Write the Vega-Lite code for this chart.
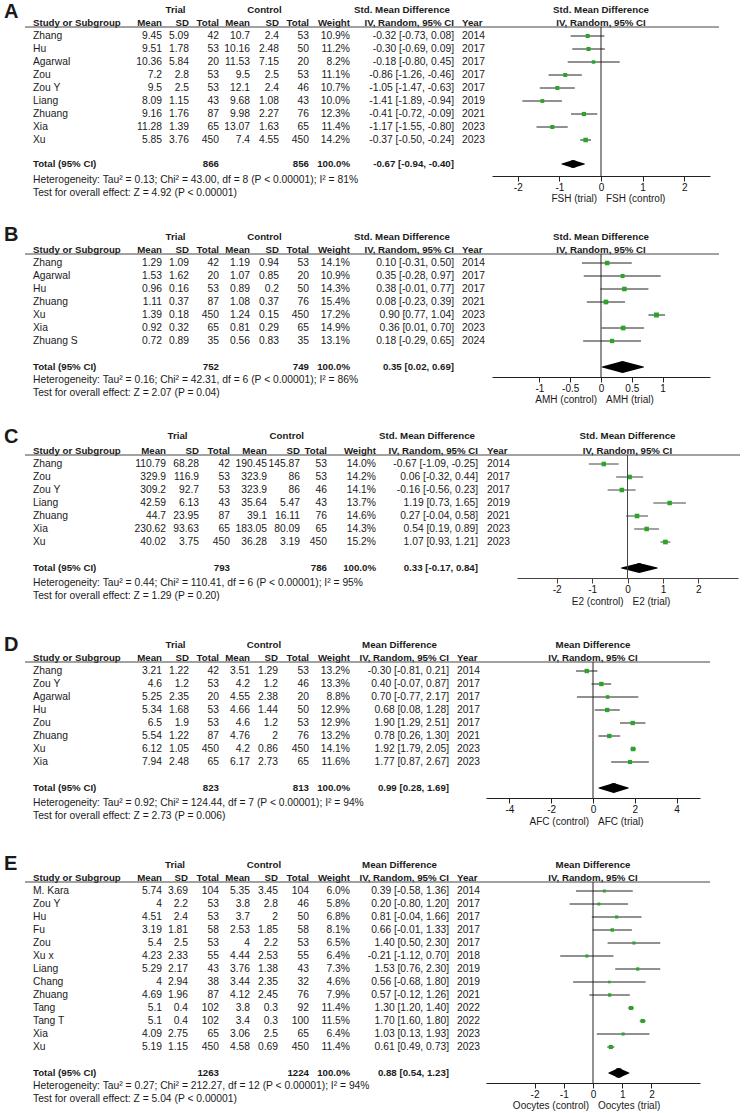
{
"$schema": "https://vega.github.io/schema/vega-lite/v6.json",
"padding": 0, "spacing": 0, "bounds": "flush", "background": "white",
"datasets": {
"H2": [{"s":"Study or Subgroup","m1":"Mean","sd1":"SD","n1":"Total","m2":"Mean","sd2":"SD","n2":"Total","w":"Weight","ci":"IV, Random, 95% CI","yr":"Year"}],
"A": [
{"s":"Zhang","m1":9.45,"sd1":5.09,"n1":42,"m2":10.7,"sd2":2.4,"n2":53,"w":0.109,"ci":"-0.32 [-0.73, 0.08]","yr":2014,"est":-0.32,"lo":-0.73,"hi":0.08},
{"s":"Hu","m1":9.51,"sd1":1.78,"n1":53,"m2":10.16,"sd2":2.48,"n2":50,"w":0.112,"ci":"-0.30 [-0.69, 0.09]","yr":2017,"est":-0.30,"lo":-0.69,"hi":0.09},
{"s":"Agarwal","m1":10.36,"sd1":5.84,"n1":20,"m2":11.53,"sd2":7.15,"n2":20,"w":0.082,"ci":"-0.18 [-0.80, 0.45]","yr":2017,"est":-0.18,"lo":-0.80,"hi":0.45},
{"s":"Zou","m1":7.2,"sd1":2.8,"n1":53,"m2":9.5,"sd2":2.5,"n2":53,"w":0.111,"ci":"-0.86 [-1.26, -0.46]","yr":2017,"est":-0.86,"lo":-1.26,"hi":-0.46},
{"s":"Zou Y","m1":9.5,"sd1":2.5,"n1":53,"m2":12.1,"sd2":2.4,"n2":46,"w":0.107,"ci":"-1.05 [-1.47, -0.63]","yr":2017,"est":-1.05,"lo":-1.47,"hi":-0.63},
{"s":"Liang","m1":8.09,"sd1":1.15,"n1":43,"m2":9.68,"sd2":1.08,"n2":43,"w":0.100,"ci":"-1.41 [-1.89, -0.94]","yr":2019,"est":-1.41,"lo":-1.89,"hi":-0.94},
{"s":"Zhuang","m1":9.16,"sd1":1.76,"n1":87,"m2":9.98,"sd2":2.27,"n2":76,"w":0.123,"ci":"-0.41 [-0.72, -0.09]","yr":2021,"est":-0.41,"lo":-0.72,"hi":-0.09},
{"s":"Xia","m1":11.28,"sd1":1.39,"n1":65,"m2":13.07,"sd2":1.63,"n2":65,"w":0.114,"ci":"-1.17 [-1.55, -0.80]","yr":2023,"est":-1.17,"lo":-1.55,"hi":-0.80},
{"s":"Xu","m1":5.85,"sd1":3.76,"n1":450,"m2":7.4,"sd2":4.55,"n2":450,"w":0.142,"ci":"-0.37 [-0.50, -0.24]","yr":2023,"est":-0.37,"lo":-0.50,"hi":-0.24}
],
"Am": [{"p":"A","m":"Std. Mean Difference","n1":866,"n2":856,"w":"100.0%","ci":"-0.67 [-0.94, -0.40]","est":-0.67,"lo":-0.94,"hi":-0.40,"_het":"Heterogeneity: Tau² = 0.13; Chi² = 43.00, df = 8 (P < 0.00001); I² = 81%","_test":"Test for overall effect: Z = 4.92 (P < 0.00001)","l1":"FSH (trial)","l2":"FSH (control)"}],
"B": [
{"s":"Zhang","m1":1.29,"sd1":1.09,"n1":42,"m2":1.19,"sd2":0.94,"n2":53,"w":0.141,"ci":"0.10 [-0.31, 0.50]","yr":2014,"est":0.10,"lo":-0.31,"hi":0.50},
{"s":"Agarwal","m1":1.53,"sd1":1.62,"n1":20,"m2":1.07,"sd2":0.85,"n2":20,"w":0.109,"ci":"0.35 [-0.28, 0.97]","yr":2017,"est":0.35,"lo":-0.28,"hi":0.97},
{"s":"Hu","m1":0.96,"sd1":0.16,"n1":53,"m2":0.89,"sd2":0.2,"n2":50,"w":0.143,"ci":"0.38 [-0.01, 0.77]","yr":2017,"est":0.38,"lo":-0.01,"hi":0.77},
{"s":"Zhuang","m1":1.11,"sd1":0.37,"n1":87,"m2":1.08,"sd2":0.37,"n2":76,"w":0.154,"ci":"0.08 [-0.23, 0.39]","yr":2021,"est":0.08,"lo":-0.23,"hi":0.39},
{"s":"Xu","m1":1.39,"sd1":0.18,"n1":450,"m2":1.24,"sd2":0.15,"n2":450,"w":0.172,"ci":"0.90 [0.77, 1.04]","yr":2023,"est":0.90,"lo":0.77,"hi":1.04},
{"s":"Xia","m1":0.92,"sd1":0.32,"n1":65,"m2":0.81,"sd2":0.29,"n2":65,"w":0.149,"ci":"0.36 [0.01, 0.70]","yr":2023,"est":0.36,"lo":0.01,"hi":0.70},
{"s":"Zhuang S","m1":0.72,"sd1":0.89,"n1":35,"m2":0.56,"sd2":0.83,"n2":35,"w":0.131,"ci":"0.18 [-0.29, 0.65]","yr":2024,"est":0.18,"lo":-0.29,"hi":0.65}
],
"Bm": [{"p":"B","m":"Std. Mean Difference","n1":752,"n2":749,"w":"100.0%","ci":"0.35 [0.02, 0.69]","est":0.35,"lo":0.02,"hi":0.69,"_het":"Heterogeneity: Tau² = 0.16; Chi² = 42.31, df = 6 (P < 0.00001); I² = 86%","_test":"Test for overall effect: Z = 2.07 (P = 0.04)","l1":"AMH (control)","l2":"AMH (trial)"}],
"C": [
{"s":"Zhang","m1":110.79,"sd1":68.28,"n1":42,"m2":190.45,"sd2":145.87,"n2":53,"w":0.140,"ci":"-0.67 [-1.09, -0.25]","yr":2014,"est":-0.67,"lo":-1.09,"hi":-0.25},
{"s":"Zou","m1":329.9,"sd1":116.9,"n1":53,"m2":323.9,"sd2":86,"n2":53,"w":0.142,"ci":"0.06 [-0.32, 0.44]","yr":2017,"est":0.06,"lo":-0.32,"hi":0.44},
{"s":"Zou Y","m1":309.2,"sd1":92.7,"n1":53,"m2":323.9,"sd2":86,"n2":46,"w":0.141,"ci":"-0.16 [-0.56, 0.23]","yr":2017,"est":-0.16,"lo":-0.56,"hi":0.23},
{"s":"Liang","m1":42.59,"sd1":6.13,"n1":43,"m2":35.64,"sd2":5.47,"n2":43,"w":0.137,"ci":"1.19 [0.73, 1.65]","yr":2019,"est":1.19,"lo":0.73,"hi":1.65},
{"s":"Zhuang","m1":44.7,"sd1":23.95,"n1":87,"m2":39.1,"sd2":16.11,"n2":76,"w":0.146,"ci":"0.27 [-0.04, 0.58]","yr":2021,"est":0.27,"lo":-0.04,"hi":0.58},
{"s":"Xia","m1":230.62,"sd1":93.63,"n1":65,"m2":183.05,"sd2":80.09,"n2":65,"w":0.143,"ci":"0.54 [0.19, 0.89]","yr":2023,"est":0.54,"lo":0.19,"hi":0.89},
{"s":"Xu","m1":40.02,"sd1":3.75,"n1":450,"m2":36.28,"sd2":3.19,"n2":450,"w":0.152,"ci":"1.07 [0.93, 1.21]","yr":2023,"est":1.07,"lo":0.93,"hi":1.21}
],
"Cm": [{"p":"C","m":"Std. Mean Difference","n1":793,"n2":786,"w":"100.0%","ci":"0.33 [-0.17, 0.84]","est":0.33,"lo":-0.17,"hi":0.84,"_het":"Heterogeneity: Tau² = 0.44; Chi² = 110.41, df = 6 (P < 0.00001); I² = 95%","_test":"Test for overall effect: Z = 1.29 (P = 0.20)","l1":"E2 (control)","l2":"E2 (trial)"}],
"D": [
{"s":"Zhang","m1":3.21,"sd1":1.22,"n1":42,"m2":3.51,"sd2":1.29,"n2":53,"w":0.132,"ci":"-0.30 [-0.81, 0.21]","yr":2014,"est":-0.30,"lo":-0.81,"hi":0.21},
{"s":"Zou Y","m1":4.6,"sd1":1.2,"n1":53,"m2":4.2,"sd2":1.2,"n2":46,"w":0.133,"ci":"0.40 [-0.07, 0.87]","yr":2017,"est":0.40,"lo":-0.07,"hi":0.87},
{"s":"Agarwal","m1":5.25,"sd1":2.35,"n1":20,"m2":4.55,"sd2":2.38,"n2":20,"w":0.088,"ci":"0.70 [-0.77, 2.17]","yr":2017,"est":0.70,"lo":-0.77,"hi":2.17},
{"s":"Hu","m1":5.34,"sd1":1.68,"n1":53,"m2":4.66,"sd2":1.44,"n2":50,"w":0.129,"ci":"0.68 [0.08, 1.28]","yr":2017,"est":0.68,"lo":0.08,"hi":1.28},
{"s":"Zou","m1":6.5,"sd1":1.9,"n1":53,"m2":4.6,"sd2":1.2,"n2":53,"w":0.129,"ci":"1.90 [1.29, 2.51]","yr":2017,"est":1.90,"lo":1.29,"hi":2.51},
{"s":"Zhuang","m1":5.54,"sd1":1.22,"n1":87,"m2":4.76,"sd2":2,"n2":76,"w":0.132,"ci":"0.78 [0.26, 1.30]","yr":2021,"est":0.78,"lo":0.26,"hi":1.30},
{"s":"Xu","m1":6.12,"sd1":1.05,"n1":450,"m2":4.2,"sd2":0.86,"n2":450,"w":0.141,"ci":"1.92 [1.79, 2.05]","yr":2023,"est":1.92,"lo":1.79,"hi":2.05},
{"s":"Xia","m1":7.94,"sd1":2.48,"n1":65,"m2":6.17,"sd2":2.73,"n2":65,"w":0.116,"ci":"1.77 [0.87, 2.67]","yr":2023,"est":1.77,"lo":0.87,"hi":2.67}
],
"Dm": [{"p":"D","m":"Mean Difference","n1":823,"n2":813,"w":"100.0%","ci":"0.99 [0.28, 1.69]","est":0.99,"lo":0.28,"hi":1.69,"_het":"Heterogeneity: Tau² = 0.92; Chi² = 124.44, df = 7 (P < 0.00001); I² = 94%","_test":"Test for overall effect: Z = 2.73 (P = 0.006)","l1":"AFC (control)","l2":"AFC (trial)"}],
"E": [
{"s":"M. Kara","m1":5.74,"sd1":3.69,"n1":104,"m2":5.35,"sd2":3.45,"n2":104,"w":0.060,"ci":"0.39 [-0.58, 1.36]","yr":2014,"est":0.39,"lo":-0.58,"hi":1.36},
{"s":"Zou Y","m1":4,"sd1":2.2,"n1":53,"m2":3.8,"sd2":2.8,"n2":46,"w":0.058,"ci":"0.20 [-0.80, 1.20]","yr":2017,"est":0.20,"lo":-0.80,"hi":1.20},
{"s":"Hu","m1":4.51,"sd1":2.4,"n1":53,"m2":3.7,"sd2":2,"n2":50,"w":0.068,"ci":"0.81 [-0.04, 1.66]","yr":2017,"est":0.81,"lo":-0.04,"hi":1.66},
{"s":"Fu","m1":3.19,"sd1":1.81,"n1":58,"m2":2.53,"sd2":1.85,"n2":58,"w":0.081,"ci":"0.66 [-0.01, 1.33]","yr":2017,"est":0.66,"lo":-0.01,"hi":1.33},
{"s":"Zou","m1":5.4,"sd1":2.5,"n1":53,"m2":4,"sd2":2.2,"n2":53,"w":0.065,"ci":"1.40 [0.50, 2.30]","yr":2017,"est":1.40,"lo":0.50,"hi":2.30},
{"s":"Xu x","m1":4.23,"sd1":2.33,"n1":55,"m2":4.44,"sd2":2.53,"n2":55,"w":0.064,"ci":"-0.21 [-1.12, 0.70]","yr":2018,"est":-0.21,"lo":-1.12,"hi":0.70},
{"s":"Liang","m1":5.29,"sd1":2.17,"n1":43,"m2":3.76,"sd2":1.38,"n2":43,"w":0.073,"ci":"1.53 [0.76, 2.30]","yr":2019,"est":1.53,"lo":0.76,"hi":2.30},
{"s":"Chang","m1":4,"sd1":2.94,"n1":38,"m2":3.44,"sd2":2.35,"n2":32,"w":0.046,"ci":"0.56 [-0.68, 1.80]","yr":2019,"est":0.56,"lo":-0.68,"hi":1.80},
{"s":"Zhuang","m1":4.69,"sd1":1.96,"n1":87,"m2":4.12,"sd2":2.45,"n2":76,"w":0.079,"ci":"0.57 [-0.12, 1.26]","yr":2021,"est":0.57,"lo":-0.12,"hi":1.26},
{"s":"Tang","m1":5.1,"sd1":0.4,"n1":102,"m2":3.8,"sd2":0.3,"n2":92,"w":0.114,"ci":"1.30 [1.20, 1.40]","yr":2022,"est":1.30,"lo":1.20,"hi":1.40},
{"s":"Tang T","m1":5.1,"sd1":0.4,"n1":102,"m2":3.4,"sd2":0.3,"n2":100,"w":0.115,"ci":"1.70 [1.60, 1.80]","yr":2022,"est":1.70,"lo":1.60,"hi":1.80},
{"s":"Xia","m1":4.09,"sd1":2.75,"n1":65,"m2":3.06,"sd2":2.5,"n2":65,"w":0.064,"ci":"1.03 [0.13, 1.93]","yr":2023,"est":1.03,"lo":0.13,"hi":1.93},
{"s":"Xu","m1":5.19,"sd1":1.15,"n1":450,"m2":4.58,"sd2":0.69,"n2":450,"w":0.114,"ci":"0.61 [0.49, 0.73]","yr":2023,"est":0.61,"lo":0.49,"hi":0.73}
],
"Em": [{"p":"E","m":"Mean Difference","n1":1263,"n2":1224,"w":"100.0%","ci":"0.88 [0.54, 1.23]","est":0.88,"lo":0.54,"hi":1.23,"_het":"Heterogeneity: Tau² = 0.27; Chi² = 212.27, df = 12 (P < 0.00001); I² = 94%","_test":"Test for overall effect: Z = 5.04 (P < 0.00001)","l1":"Oocytes (control)","l2":"Oocytes (trial)"}]
},
"vconcat": [
{"width": 750, "height": 223,
 "resolve": {"scale": {"x": "independent", "size": "independent"}, "axis": {"x": "independent"}},
 "layer": [
 {"layer": [
  {"data":{"name":"Am"},"mark":{"type":"text","align":"left","fontSize":20,"fontWeight":"bold","dy":2},"encoding":{"x":{"datum":-1,"type":"quantitative","axis":null},"y":{"datum":"_h1"},"text":{"field":"p","type":"nominal"}}},
  {"data":{"name":"H2"},"mark":{"type":"text","text":"Trial","fontWeight":"bold","fontSize":9.7,"align":"center"},"encoding":{"x":{"datum":2.5,"type":"quantitative","axis":null},"y":{"datum":"_h1"}}},
  {"data":{"name":"H2"},"mark":{"type":"text","text":"Control","fontWeight":"bold","fontSize":9.7,"align":"center"},"encoding":{"x":{"datum":5.5,"type":"quantitative","axis":null},"y":{"datum":"_h1"}}},
  {"data":{"name":"Am"},"mark":{"type":"text","fontWeight":"bold","fontSize":9.7,"align":"center"},"encoding":{"x":{"datum":8.5,"type":"quantitative","axis":null},"y":{"datum":"_h1"},"text":{"field":"m","type":"nominal"}}},
  {"data":{"name":"H2"},"transform":[{"fold":["m1","sd1","n1","m2","sd2","n2","w","ci"]},{"calculate":"indexof(['m1','sd1','n1','m2','sd2','n2','w','ci'], datum.key) + 2","as":"c"}],"mark":{"type":"text","align":"right","fontWeight":"bold","fontSize":9.7},"encoding":{"x":{"field":"c","type":"quantitative","axis":null},"y":{"datum":"Study or Subgroup"},"text":{"field":"value","type":"nominal"}}},
  {"data":{"name":"H2"},"transform":[{"fold":["s","yr"]},{"calculate":"datum.key == 's' ? 1 : 10","as":"c"}],"mark":{"type":"text","align":"left","fontWeight":"bold","fontSize":9.7},"encoding":{"x":{"field":"c","type":"quantitative","axis":null},"y":{"datum":"Study or Subgroup"},"text":{"field":"value","type":"nominal"}}},
  {"data":{"name":"A"},"transform":[{"fold":["m1","sd1","n1","m2","sd2","n2","ci"]},{"calculate":"indexof(['m1','sd1','n1','m2','sd2','n2','w','ci'], datum.key) + 2","as":"c"}],"mark":{"type":"text","align":"right"},"encoding":{"x":{"field":"c","type":"quantitative","axis":null,"scale":{"domain":[-1,0,1,2,3,4,5,6,7,8,9,10,11],"range":[4,25,33,162,189,219,250,279,309,350,454,462,719],"nice":false,"zero":false}},"y":{"field":"s","type":"nominal","scale":{"type":"point","padding":0,"range":[10,205],"domain":["_h1","Study or Subgroup","Zhang","Hu","Agarwal","Zou","Zou Y","Liang","Zhuang","Xia","Xu","_gap","Total (95% CI)","_het","_test","_lab"]}},"text":{"field":"value","type":"nominal"}}},
  {"data":{"name":"A"},"transform":[{"fold":["s","yr"]},{"calculate":"datum.key == 's' ? 1 : 10","as":"c"}],"mark":{"type":"text","align":"left"},"encoding":{"x":{"field":"c","type":"quantitative","axis":null},"y":{"field":"s","type":"nominal"},"text":{"field":"value","type":"nominal"}}},
  {"data":{"name":"A"},"mark":{"type":"text","align":"right"},"encoding":{"x":{"datum":8,"type":"quantitative","axis":null},"y":{"field":"s","type":"nominal"},"text":{"field":"w","type":"quantitative","format":".1%"}}},
  {"data":{"name":"Am"},"transform":[{"fold":["n1","n2","w","ci"]},{"calculate":"indexof(['m1','sd1','n1','m2','sd2','n2','w','ci'], datum.key) + 2","as":"c"}],"mark":{"type":"text","align":"right","fontWeight":"bold","fontSize":9.7,"dy":-2},"encoding":{"x":{"field":"c","type":"quantitative","axis":null},"y":{"datum":"Total (95% CI)"},"text":{"field":"value","type":"nominal"}}},
  {"data":{"name":"H2"},"mark":{"type":"text","text":"Total (95% CI)","align":"left","fontWeight":"bold","fontSize":9.7,"dy":-2},"encoding":{"x":{"datum":1,"type":"quantitative","axis":null},"y":{"datum":"Total (95% CI)"}}},
  {"data":{"name":"Am"},"transform":[{"fold":["_het","_test"]}],"mark":{"type":"text","align":"left","dy":1},"encoding":{"x":{"datum":1,"type":"quantitative","axis":null},"y":{"field":"key","type":"nominal"},"text":{"field":"value","type":"nominal"}}},
  {"data":{"name":"H2"},"mark":{"type":"rule","color":"#444","yOffset":4},"encoding":{"x":{"datum":0,"type":"quantitative","axis":null},"x2":{"datum":11},"y":{"datum":"Study or Subgroup"}}}
 ]},
 {"resolve": {"scale": {"size": "independent"}, "axis": {"x": "independent"}},
  "layer": [
  {"data":{"name":"A"},"mark":{"type":"rule","color":"#222"},"encoding":{"x":{"field":"lo","type":"quantitative","scale":{"domain":[-2.62,2.62],"range":[492,710],"nice":false,"zero":false},"axis":{"values":[-2,-1,0,1,2],"format":"~g","offset":-47,"title":null,"grid":false,"labelFontSize":10,"labelFont":"Liberation Sans","labelColor":"#111","domainColor":"#222","tickColor":"#222","tickSize":5,"labelPadding":1,"labelFlush":false}},"x2":{"field":"hi"},"y":{"field":"s","type":"nominal","scale":{"type":"point","padding":0,"range":[10,205],"domain":["_h1","Study or Subgroup","Zhang","Hu","Agarwal","Zou","Zou Y","Liang","Zhuang","Xia","Xu","_gap","Total (95% CI)","_het","_test","_lab"]}}}},
  {"data":{"name":"A"},"mark":{"type":"square","filled":true,"opacity":1,"color":"#2aa52a"},"encoding":{"x":{"field":"est","type":"quantitative","axis":null},"y":{"field":"s","type":"nominal"},"size":{"field":"w","type":"quantitative","scale":{"domain":[0,0.2],"range":[0,29]},"legend":null}}},
  {"data":{"name":"Am"},"transform":[{"fold":["lo","est","hi"],"as":["k","v"]},{"calculate":"datum.k == 'est' ? 1 : 0","as":"h"}],"mark":{"type":"trail","color":"#000","yOffset":-2},"encoding":{"x":{"field":"v","type":"quantitative","axis":null},"y":{"datum":"Total (95% CI)"},"size":{"field":"h","type":"quantitative","scale":{"domain":[0,1],"range":[0,8]},"legend":null}}},
  {"data":{"name":"H2"},"mark":{"type":"rule","color":"#222","yOffset":4,"y2Offset":-3},"encoding":{"x":{"datum":0,"type":"quantitative","axis":null},"y":{"datum":"Study or Subgroup"},"y2":{"datum":"_het"}}},
  {"data":{"name":"Am"},"mark":{"type":"text","fontWeight":"bold","fontSize":9.7,"align":"center"},"encoding":{"x":{"datum":0,"type":"quantitative","axis":null},"y":{"datum":"_h1"},"text":{"field":"m","type":"nominal"}}},
  {"data":{"name":"H2"},"mark":{"type":"text","text":"IV, Random, 95% CI","fontWeight":"bold","fontSize":9.7,"align":"center"},"encoding":{"x":{"datum":0,"type":"quantitative","axis":null},"y":{"datum":"Study or Subgroup"}}},
  {"data":{"name":"Am"},"mark":{"type":"text","align":"right","dx":-4,"dy":-6,"fontSize":10},"encoding":{"x":{"datum":0,"type":"quantitative","axis":null},"y":{"datum":"_lab"},"text":{"field":"l1","type":"nominal"}}},
  {"data":{"name":"Am"},"mark":{"type":"text","align":"left","dx":5,"dy":-6,"fontSize":10},"encoding":{"x":{"datum":0,"type":"quantitative","axis":null},"y":{"datum":"_lab"},"text":{"field":"l2","type":"nominal"}}}
 ]}
 ]},
{"width": 750, "height": 202,
 "resolve": {"scale": {"x": "independent", "size": "independent"}, "axis": {"x": "independent"}},
 "layer": [
 {"layer": [
  {"data":{"name":"Bm"},"mark":{"type":"text","align":"left","fontSize":20,"fontWeight":"bold","dy":-2},"encoding":{"x":{"datum":-1,"type":"quantitative","axis":null},"y":{"datum":"_h1"},"text":{"field":"p","type":"nominal"}}},
  {"data":{"name":"H2"},"mark":{"type":"text","text":"Trial","fontWeight":"bold","fontSize":9.7,"align":"center"},"encoding":{"x":{"datum":2.5,"type":"quantitative","axis":null},"y":{"datum":"_h1"}}},
  {"data":{"name":"H2"},"mark":{"type":"text","text":"Control","fontWeight":"bold","fontSize":9.7,"align":"center"},"encoding":{"x":{"datum":5.5,"type":"quantitative","axis":null},"y":{"datum":"_h1"}}},
  {"data":{"name":"Bm"},"mark":{"type":"text","fontWeight":"bold","fontSize":9.7,"align":"center"},"encoding":{"x":{"datum":8.5,"type":"quantitative","axis":null},"y":{"datum":"_h1"},"text":{"field":"m","type":"nominal"}}},
  {"data":{"name":"H2"},"transform":[{"fold":["m1","sd1","n1","m2","sd2","n2","w","ci"]},{"calculate":"indexof(['m1','sd1','n1','m2','sd2','n2','w','ci'], datum.key) + 2","as":"c"}],"mark":{"type":"text","align":"right","fontWeight":"bold","fontSize":9.7},"encoding":{"x":{"field":"c","type":"quantitative","axis":null},"y":{"datum":"Study or Subgroup"},"text":{"field":"value","type":"nominal"}}},
  {"data":{"name":"H2"},"transform":[{"fold":["s","yr"]},{"calculate":"datum.key == 's' ? 1 : 10","as":"c"}],"mark":{"type":"text","align":"left","fontWeight":"bold","fontSize":9.7},"encoding":{"x":{"field":"c","type":"quantitative","axis":null},"y":{"datum":"Study or Subgroup"},"text":{"field":"value","type":"nominal"}}},
  {"data":{"name":"B"},"transform":[{"fold":["m1","sd1","n1","m2","sd2","n2","ci"]},{"calculate":"indexof(['m1','sd1','n1','m2','sd2','n2','w','ci'], datum.key) + 2","as":"c"}],"mark":{"type":"text","align":"right"},"encoding":{"x":{"field":"c","type":"quantitative","axis":null,"scale":{"domain":[-1,0,1,2,3,4,5,6,7,8,9,10,11],"range":[4,25,33,162,189,219,250,279,309,350,454,462,719],"nice":false,"zero":false}},"y":{"field":"s","type":"nominal","scale":{"type":"point","padding":0,"range":[14,183],"domain":["_h1","Study or Subgroup","Zhang","Agarwal","Hu","Zhuang","Xu","Xia","Zhuang S","_gap","Total (95% CI)","_het","_test","_lab"]}},"text":{"field":"value","type":"nominal"}}},
  {"data":{"name":"B"},"transform":[{"fold":["s","yr"]},{"calculate":"datum.key == 's' ? 1 : 10","as":"c"}],"mark":{"type":"text","align":"left"},"encoding":{"x":{"field":"c","type":"quantitative","axis":null},"y":{"field":"s","type":"nominal"},"text":{"field":"value","type":"nominal"}}},
  {"data":{"name":"B"},"mark":{"type":"text","align":"right"},"encoding":{"x":{"datum":8,"type":"quantitative","axis":null},"y":{"field":"s","type":"nominal"},"text":{"field":"w","type":"quantitative","format":".1%"}}},
  {"data":{"name":"Bm"},"transform":[{"fold":["n1","n2","w","ci"]},{"calculate":"indexof(['m1','sd1','n1','m2','sd2','n2','w','ci'], datum.key) + 2","as":"c"}],"mark":{"type":"text","align":"right","fontWeight":"bold","fontSize":9.7},"encoding":{"x":{"field":"c","type":"quantitative","axis":null},"y":{"datum":"Total (95% CI)"},"text":{"field":"value","type":"nominal"}}},
  {"data":{"name":"H2"},"mark":{"type":"text","text":"Total (95% CI)","align":"left","fontWeight":"bold","fontSize":9.7},"encoding":{"x":{"datum":1,"type":"quantitative","axis":null},"y":{"datum":"Total (95% CI)"}}},
  {"data":{"name":"Bm"},"transform":[{"fold":["_het","_test"]}],"mark":{"type":"text","align":"left"},"encoding":{"x":{"datum":1,"type":"quantitative","axis":null},"y":{"field":"key","type":"nominal"},"text":{"field":"value","type":"nominal"}}},
  {"data":{"name":"H2"},"mark":{"type":"rule","color":"#444","yOffset":4},"encoding":{"x":{"datum":0,"type":"quantitative","axis":null},"x2":{"datum":11},"y":{"datum":"Study or Subgroup"}}}
 ]},
 {"resolve": {"scale": {"size": "independent"}, "axis": {"x": "independent"}},
  "layer": [
  {"data":{"name":"B"},"mark":{"type":"rule","color":"#222"},"encoding":{"x":{"field":"lo","type":"quantitative","scale":{"domain":[-1.77,1.77],"range":[492,710],"nice":false,"zero":false},"axis":{"values":[-1,-0.5,0,0.5,1],"format":"~g","offset":-48,"title":null,"grid":false,"labelFontSize":10,"labelFont":"Liberation Sans","labelColor":"#111","domainColor":"#222","tickColor":"#222","tickSize":5,"labelPadding":1,"labelFlush":false}},"x2":{"field":"hi"},"y":{"field":"s","type":"nominal","scale":{"type":"point","padding":0,"range":[14,183],"domain":["_h1","Study or Subgroup","Zhang","Agarwal","Hu","Zhuang","Xu","Xia","Zhuang S","_gap","Total (95% CI)","_het","_test","_lab"]}}}},
  {"data":{"name":"B"},"mark":{"type":"square","filled":true,"opacity":1,"color":"#2aa52a"},"encoding":{"x":{"field":"est","type":"quantitative","axis":null},"y":{"field":"s","type":"nominal"},"size":{"field":"w","type":"quantitative","scale":{"domain":[0,0.2],"range":[0,29]},"legend":null}}},
  {"data":{"name":"Bm"},"transform":[{"fold":["lo","est","hi"],"as":["k","v"]},{"calculate":"datum.k == 'est' ? 1 : 0","as":"h"}],"mark":{"type":"trail","color":"#000"},"encoding":{"x":{"field":"v","type":"quantitative","axis":null},"y":{"datum":"Total (95% CI)"},"size":{"field":"h","type":"quantitative","scale":{"domain":[0,1],"range":[0,12]},"legend":null}}},
  {"data":{"name":"H2"},"mark":{"type":"rule","color":"#222","yOffset":4,"y2Offset":-3},"encoding":{"x":{"datum":0,"type":"quantitative","axis":null},"y":{"datum":"Study or Subgroup"},"y2":{"datum":"_het"}}},
  {"data":{"name":"Bm"},"mark":{"type":"text","fontWeight":"bold","fontSize":9.7,"align":"center"},"encoding":{"x":{"datum":0,"type":"quantitative","axis":null},"y":{"datum":"_h1"},"text":{"field":"m","type":"nominal"}}},
  {"data":{"name":"H2"},"mark":{"type":"text","text":"IV, Random, 95% CI","fontWeight":"bold","fontSize":9.7,"align":"center"},"encoding":{"x":{"datum":0,"type":"quantitative","axis":null},"y":{"datum":"Study or Subgroup"}}},
  {"data":{"name":"Bm"},"mark":{"type":"text","align":"right","dx":-4,"dy":-6,"fontSize":10},"encoding":{"x":{"datum":0,"type":"quantitative","axis":null},"y":{"datum":"_lab"},"text":{"field":"l1","type":"nominal"}}},
  {"data":{"name":"Bm"},"mark":{"type":"text","align":"left","dx":5,"dy":-6,"fontSize":10},"encoding":{"x":{"datum":0,"type":"quantitative","axis":null},"y":{"datum":"_lab"},"text":{"field":"l2","type":"nominal"}}}
 ]}
 ]},
{"width": 750, "height": 208,
 "resolve": {"scale": {"x": "independent", "size": "independent"}, "axis": {"x": "independent"}},
 "layer": [
 {"layer": [
  {"data":{"name":"Cm"},"mark":{"type":"text","align":"left","fontSize":20,"fontWeight":"bold","dy":-1},"encoding":{"x":{"datum":-1,"type":"quantitative","axis":null},"y":{"datum":"_h1"},"text":{"field":"p","type":"nominal"}}},
  {"data":{"name":"H2"},"mark":{"type":"text","text":"Trial","fontWeight":"bold","fontSize":9.7,"align":"center","dy":-2},"encoding":{"x":{"datum":2.35,"type":"quantitative","axis":null},"y":{"datum":"_h1"}}},
  {"data":{"name":"H2"},"mark":{"type":"text","text":"Control","fontWeight":"bold","fontSize":9.7,"align":"center","dy":-2},"encoding":{"x":{"datum":5.6,"type":"quantitative","axis":null},"y":{"datum":"_h1"}}},
  {"data":{"name":"Cm"},"mark":{"type":"text","fontWeight":"bold","fontSize":9.7,"align":"center","dy":-2},"encoding":{"x":{"datum":8.5,"type":"quantitative","axis":null},"y":{"datum":"_h1"},"text":{"field":"m","type":"nominal"}}},
  {"data":{"name":"H2"},"transform":[{"fold":["m1","sd1","n1","m2","sd2","n2","w","ci"]},{"calculate":"indexof(['m1','sd1','n1','m2','sd2','n2','w','ci'], datum.key) + 2","as":"c"}],"mark":{"type":"text","align":"right","fontWeight":"bold","fontSize":9.7},"encoding":{"x":{"field":"c","type":"quantitative","axis":null},"y":{"datum":"Study or Subgroup"},"text":{"field":"value","type":"nominal"}}},
  {"data":{"name":"H2"},"transform":[{"fold":["s","yr"]},{"calculate":"datum.key == 's' ? 1 : 10","as":"c"}],"mark":{"type":"text","align":"left","fontWeight":"bold","fontSize":9.7},"encoding":{"x":{"field":"c","type":"quantitative","axis":null},"y":{"datum":"Study or Subgroup"},"text":{"field":"value","type":"nominal"}}},
  {"data":{"name":"C"},"transform":[{"fold":["m1","sd1","n1","m2","sd2","n2","ci"]},{"calculate":"indexof(['m1','sd1','n1','m2','sd2','n2','w','ci'], datum.key) + 2","as":"c"}],"mark":{"type":"text","align":"right"},"encoding":{"x":{"field":"c","type":"quantitative","axis":null,"scale":{"domain":[-1,0,1,2,3,4,5,6,7,8,9,10,11],"range":[4,25,33,166,199,230,267,300,327,376,478,487,740],"nice":false,"zero":false}},"y":{"field":"s","type":"nominal","scale":{"type":"point","padding":0,"range":[13,182],"domain":["_h1","Study or Subgroup","Zhang","Zou","Zou Y","Liang","Zhuang","Xia","Xu","_gap","Total (95% CI)","_het","_test","_lab"]}},"text":{"field":"value","type":"nominal"}}},
  {"data":{"name":"C"},"transform":[{"fold":["s","yr"]},{"calculate":"datum.key == 's' ? 1 : 10","as":"c"}],"mark":{"type":"text","align":"left"},"encoding":{"x":{"field":"c","type":"quantitative","axis":null},"y":{"field":"s","type":"nominal"},"text":{"field":"value","type":"nominal"}}},
  {"data":{"name":"C"},"mark":{"type":"text","align":"right"},"encoding":{"x":{"datum":8,"type":"quantitative","axis":null},"y":{"field":"s","type":"nominal"},"text":{"field":"w","type":"quantitative","format":".1%"}}},
  {"data":{"name":"Cm"},"transform":[{"fold":["n1","n2","w","ci"]},{"calculate":"indexof(['m1','sd1','n1','m2','sd2','n2','w','ci'], datum.key) + 2","as":"c"}],"mark":{"type":"text","align":"right","fontWeight":"bold","fontSize":9.7},"encoding":{"x":{"field":"c","type":"quantitative","axis":null},"y":{"datum":"Total (95% CI)"},"text":{"field":"value","type":"nominal"}}},
  {"data":{"name":"H2"},"mark":{"type":"text","text":"Total (95% CI)","align":"left","fontWeight":"bold","fontSize":9.7},"encoding":{"x":{"datum":1,"type":"quantitative","axis":null},"y":{"datum":"Total (95% CI)"}}},
  {"data":{"name":"Cm"},"transform":[{"fold":["_het","_test"]}],"mark":{"type":"text","align":"left","dy":2},"encoding":{"x":{"datum":1,"type":"quantitative","axis":null},"y":{"field":"key","type":"nominal"},"text":{"field":"value","type":"nominal"}}},
  {"data":{"name":"H2"},"mark":{"type":"rule","color":"#444","yOffset":4},"encoding":{"x":{"datum":0,"type":"quantitative","axis":null},"x2":{"datum":11},"y":{"datum":"Study or Subgroup"}}}
 ]},
 {"resolve": {"scale": {"size": "independent"}, "axis": {"x": "independent"}},
  "layer": [
  {"data":{"name":"C"},"mark":{"type":"rule","color":"#444"},"encoding":{"x":{"field":"lo","type":"quantitative","scale":{"domain":[-3.12,3.12],"range":[517,738],"nice":false,"zero":false},"axis":{"values":[-2,-1,0,1,2],"format":"~g","offset":-55,"title":null,"grid":false,"labelFontSize":10,"labelFont":"Liberation Sans","labelColor":"#111","domainColor":"#444","tickColor":"#444","tickSize":5,"labelPadding":1,"labelFlush":false}},"x2":{"field":"hi"},"y":{"field":"s","type":"nominal","scale":{"type":"point","padding":0,"range":[13,182],"domain":["_h1","Study or Subgroup","Zhang","Zou","Zou Y","Liang","Zhuang","Xia","Xu","_gap","Total (95% CI)","_het","_test","_lab"]}}}},
  {"data":{"name":"C"},"mark":{"type":"square","filled":true,"opacity":1,"color":"#2aa52a"},"encoding":{"x":{"field":"est","type":"quantitative","axis":null},"y":{"field":"s","type":"nominal"},"size":{"field":"w","type":"quantitative","scale":{"domain":[0,0.2],"range":[0,29]},"legend":null}}},
  {"data":{"name":"Cm"},"transform":[{"fold":["lo","est","hi"],"as":["k","v"]},{"calculate":"datum.k == 'est' ? 1 : 0","as":"h"}],"mark":{"type":"trail","color":"#000"},"encoding":{"x":{"field":"v","type":"quantitative","axis":null},"y":{"datum":"Total (95% CI)"},"size":{"field":"h","type":"quantitative","scale":{"domain":[0,1],"range":[0,10]},"legend":null}}},
  {"data":{"name":"H2"},"mark":{"type":"rule","color":"#444","yOffset":4,"y2Offset":-3},"encoding":{"x":{"datum":0,"type":"quantitative","axis":null},"y":{"datum":"Study or Subgroup"},"y2":{"datum":"_het"}}},
  {"data":{"name":"Cm"},"mark":{"type":"text","fontWeight":"bold","fontSize":9.7,"align":"center","dy":-2},"encoding":{"x":{"datum":0,"type":"quantitative","axis":null},"y":{"datum":"_h1"},"text":{"field":"m","type":"nominal"}}},
  {"data":{"name":"H2"},"mark":{"type":"text","text":"IV, Random, 95% CI","fontWeight":"bold","fontSize":9.7,"align":"center"},"encoding":{"x":{"datum":0,"type":"quantitative","axis":null},"y":{"datum":"Study or Subgroup"}}},
  {"data":{"name":"Cm"},"mark":{"type":"text","align":"right","dx":-4,"dy":-5,"fontSize":10},"encoding":{"x":{"datum":0,"type":"quantitative","axis":null},"y":{"datum":"_lab"},"text":{"field":"l1","type":"nominal"}}},
  {"data":{"name":"Cm"},"mark":{"type":"text","align":"left","dx":5,"dy":-5,"fontSize":10},"encoding":{"x":{"datum":0,"type":"quantitative","axis":null},"y":{"datum":"_lab"},"text":{"field":"l2","type":"nominal"}}}
 ]}
 ]},
{"width": 750, "height": 219,
 "resolve": {"scale": {"x": "independent", "size": "independent"}, "axis": {"x": "independent"}},
 "layer": [
 {"layer": [
  {"data":{"name":"Dm"},"mark":{"type":"text","align":"left","fontSize":20,"fontWeight":"bold"},"encoding":{"x":{"datum":-1,"type":"quantitative","axis":null},"y":{"datum":"_h1"},"text":{"field":"p","type":"nominal"}}},
  {"data":{"name":"H2"},"mark":{"type":"text","text":"Trial","fontWeight":"bold","fontSize":9.7,"align":"center"},"encoding":{"x":{"datum":2.5,"type":"quantitative","axis":null},"y":{"datum":"_h1"}}},
  {"data":{"name":"H2"},"mark":{"type":"text","text":"Control","fontWeight":"bold","fontSize":9.7,"align":"center"},"encoding":{"x":{"datum":5.5,"type":"quantitative","axis":null},"y":{"datum":"_h1"}}},
  {"data":{"name":"Dm"},"mark":{"type":"text","fontWeight":"bold","fontSize":9.7,"align":"center"},"encoding":{"x":{"datum":8.5,"type":"quantitative","axis":null},"y":{"datum":"_h1"},"text":{"field":"m","type":"nominal"}}},
  {"data":{"name":"H2"},"transform":[{"fold":["m1","sd1","n1","m2","sd2","n2","w","ci"]},{"calculate":"indexof(['m1','sd1','n1','m2','sd2','n2','w','ci'], datum.key) + 2","as":"c"}],"mark":{"type":"text","align":"right","fontWeight":"bold","fontSize":9.7},"encoding":{"x":{"field":"c","type":"quantitative","axis":null},"y":{"datum":"Study or Subgroup"},"text":{"field":"value","type":"nominal"}}},
  {"data":{"name":"H2"},"transform":[{"fold":["s","yr"]},{"calculate":"datum.key == 's' ? 1 : 10","as":"c"}],"mark":{"type":"text","align":"left","fontWeight":"bold","fontSize":9.7},"encoding":{"x":{"field":"c","type":"quantitative","axis":null},"y":{"datum":"Study or Subgroup"},"text":{"field":"value","type":"nominal"}}},
  {"data":{"name":"D"},"transform":[{"fold":["m1","sd1","n1","m2","sd2","n2","ci"]},{"calculate":"indexof(['m1','sd1','n1','m2','sd2','n2','w','ci'], datum.key) + 2","as":"c"}],"mark":{"type":"text","align":"right"},"encoding":{"x":{"field":"c","type":"quantitative","axis":null,"scale":{"domain":[-1,0,1,2,3,4,5,6,7,8,9,10,11],"range":[4,25,33,162,189,219,250,278,309,350,449,457,710],"nice":false,"zero":false}},"y":{"field":"s","type":"nominal","scale":{"type":"point","padding":0,"range":[12,194],"domain":["_h1","Study or Subgroup","Zhang","Zou Y","Agarwal","Hu","Zou","Zhuang","Xu","Xia","_gap","Total (95% CI)","_het","_test","_lab"]}},"text":{"field":"value","type":"nominal"}}},
  {"data":{"name":"D"},"transform":[{"fold":["s","yr"]},{"calculate":"datum.key == 's' ? 1 : 10","as":"c"}],"mark":{"type":"text","align":"left"},"encoding":{"x":{"field":"c","type":"quantitative","axis":null},"y":{"field":"s","type":"nominal"},"text":{"field":"value","type":"nominal"}}},
  {"data":{"name":"D"},"mark":{"type":"text","align":"right"},"encoding":{"x":{"datum":8,"type":"quantitative","axis":null},"y":{"field":"s","type":"nominal"},"text":{"field":"w","type":"quantitative","format":".1%"}}},
  {"data":{"name":"Dm"},"transform":[{"fold":["n1","n2","w","ci"]},{"calculate":"indexof(['m1','sd1','n1','m2','sd2','n2','w','ci'], datum.key) + 2","as":"c"}],"mark":{"type":"text","align":"right","fontWeight":"bold","fontSize":9.7},"encoding":{"x":{"field":"c","type":"quantitative","axis":null},"y":{"datum":"Total (95% CI)"},"text":{"field":"value","type":"nominal"}}},
  {"data":{"name":"H2"},"mark":{"type":"text","text":"Total (95% CI)","align":"left","fontWeight":"bold","fontSize":9.7},"encoding":{"x":{"datum":1,"type":"quantitative","axis":null},"y":{"datum":"Total (95% CI)"}}},
  {"data":{"name":"Dm"},"transform":[{"fold":["_het","_test"]}],"mark":{"type":"text","align":"left","dy":1.5},"encoding":{"x":{"datum":1,"type":"quantitative","axis":null},"y":{"field":"key","type":"nominal"},"text":{"field":"value","type":"nominal"}}},
  {"data":{"name":"H2"},"mark":{"type":"rule","color":"#444","yOffset":4},"encoding":{"x":{"datum":0,"type":"quantitative","axis":null},"x2":{"datum":11},"y":{"datum":"Study or Subgroup"}}}
 ]},
 {"resolve": {"scale": {"size": "independent"}, "axis": {"x": "independent"}},
  "layer": [
  {"data":{"name":"D"},"mark":{"type":"rule","color":"#222"},"encoding":{"x":{"field":"lo","type":"quantitative","scale":{"domain":[-5.12,5.12],"range":[486,700],"nice":false,"zero":false},"axis":{"values":[-4,-2,0,2,4],"format":"~g","offset":-54,"title":null,"grid":false,"labelFontSize":10,"labelFont":"Liberation Sans","labelColor":"#111","domainColor":"#222","tickColor":"#222","tickSize":5,"labelPadding":1,"labelFlush":false}},"x2":{"field":"hi"},"y":{"field":"s","type":"nominal","scale":{"type":"point","padding":0,"range":[12,194],"domain":["_h1","Study or Subgroup","Zhang","Zou Y","Agarwal","Hu","Zou","Zhuang","Xu","Xia","_gap","Total (95% CI)","_het","_test","_lab"]}}}},
  {"data":{"name":"D"},"mark":{"type":"square","filled":true,"opacity":1,"color":"#2aa52a"},"encoding":{"x":{"field":"est","type":"quantitative","axis":null},"y":{"field":"s","type":"nominal"},"size":{"field":"w","type":"quantitative","scale":{"domain":[0,0.2],"range":[0,29]},"legend":null}}},
  {"data":{"name":"Dm"},"transform":[{"fold":["lo","est","hi"],"as":["k","v"]},{"calculate":"datum.k == 'est' ? 1 : 0","as":"h"}],"mark":{"type":"trail","color":"#000"},"encoding":{"x":{"field":"v","type":"quantitative","axis":null},"y":{"datum":"Total (95% CI)"},"size":{"field":"h","type":"quantitative","scale":{"domain":[0,1],"range":[0,10]},"legend":null}}},
  {"data":{"name":"H2"},"mark":{"type":"rule","color":"#222","yOffset":4,"y2Offset":-3},"encoding":{"x":{"datum":0,"type":"quantitative","axis":null},"y":{"datum":"Study or Subgroup"},"y2":{"datum":"_het"}}},
  {"data":{"name":"Dm"},"mark":{"type":"text","fontWeight":"bold","fontSize":9.7,"align":"center"},"encoding":{"x":{"datum":0,"type":"quantitative","axis":null},"y":{"datum":"_h1"},"text":{"field":"m","type":"nominal"}}},
  {"data":{"name":"H2"},"mark":{"type":"text","text":"IV, Random, 95% CI","fontWeight":"bold","fontSize":9.7,"align":"center"},"encoding":{"x":{"datum":0,"type":"quantitative","axis":null},"y":{"datum":"Study or Subgroup"}}},
  {"data":{"name":"Dm"},"mark":{"type":"text","align":"right","dx":-4,"dy":-5,"fontSize":10},"encoding":{"x":{"datum":0,"type":"quantitative","axis":null},"y":{"datum":"_lab"},"text":{"field":"l1","type":"nominal"}}},
  {"data":{"name":"Dm"},"mark":{"type":"text","align":"left","dx":5,"dy":-5,"fontSize":10},"encoding":{"x":{"datum":0,"type":"quantitative","axis":null},"y":{"datum":"_lab"},"text":{"field":"l2","type":"nominal"}}}
 ]}
 ]},
{"width": 750, "height": 261,
 "resolve": {"scale": {"x": "independent", "size": "independent"}, "axis": {"x": "independent"}},
 "layer": [
 {"layer": [
  {"data":{"name":"Em"},"mark":{"type":"text","align":"left","fontSize":20,"fontWeight":"bold","dy":-1},"encoding":{"x":{"datum":-1,"type":"quantitative","axis":null},"y":{"datum":"_h1"},"text":{"field":"p","type":"nominal"}}},
  {"data":{"name":"H2"},"mark":{"type":"text","text":"Trial","fontWeight":"bold","fontSize":9.7,"align":"center"},"encoding":{"x":{"datum":2.5,"type":"quantitative","axis":null},"y":{"datum":"_h1"}}},
  {"data":{"name":"H2"},"mark":{"type":"text","text":"Control","fontWeight":"bold","fontSize":9.7,"align":"center"},"encoding":{"x":{"datum":5.5,"type":"quantitative","axis":null},"y":{"datum":"_h1"}}},
  {"data":{"name":"Em"},"mark":{"type":"text","fontWeight":"bold","fontSize":9.7,"align":"center"},"encoding":{"x":{"datum":8.5,"type":"quantitative","axis":null},"y":{"datum":"_h1"},"text":{"field":"m","type":"nominal"}}},
  {"data":{"name":"H2"},"transform":[{"fold":["m1","sd1","n1","m2","sd2","n2","w","ci"]},{"calculate":"indexof(['m1','sd1','n1','m2','sd2','n2','w','ci'], datum.key) + 2","as":"c"}],"mark":{"type":"text","align":"right","fontWeight":"bold","fontSize":9.7},"encoding":{"x":{"field":"c","type":"quantitative","axis":null},"y":{"datum":"Study or Subgroup"},"text":{"field":"value","type":"nominal"}}},
  {"data":{"name":"H2"},"transform":[{"fold":["s","yr"]},{"calculate":"datum.key == 's' ? 1 : 10","as":"c"}],"mark":{"type":"text","align":"left","fontWeight":"bold","fontSize":9.7},"encoding":{"x":{"field":"c","type":"quantitative","axis":null},"y":{"datum":"Study or Subgroup"},"text":{"field":"value","type":"nominal"}}},
  {"data":{"name":"E"},"transform":[{"fold":["m1","sd1","n1","m2","sd2","n2","ci"]},{"calculate":"indexof(['m1','sd1','n1','m2','sd2','n2','w','ci'], datum.key) + 2","as":"c"}],"mark":{"type":"text","align":"right"},"encoding":{"x":{"field":"c","type":"quantitative","axis":null,"scale":{"domain":[-1,0,1,2,3,4,5,6,7,8,9,10,11],"range":[4,25,33,162,188,219,250,278,309,350,449,457,710],"nice":false,"zero":false}},"y":{"field":"s","type":"nominal","scale":{"type":"point","padding":0,"range":[13,260],"domain":["_h1","Study or Subgroup","M. Kara","Zou Y","Hu","Fu","Zou","Xu x","Liang","Chang","Zhuang","Tang","Tang T","Xia","Xu","_gap","Total (95% CI)","_het","_test","_lab"]}},"text":{"field":"value","type":"nominal"}}},
  {"data":{"name":"E"},"transform":[{"fold":["s","yr"]},{"calculate":"datum.key == 's' ? 1 : 10","as":"c"}],"mark":{"type":"text","align":"left"},"encoding":{"x":{"field":"c","type":"quantitative","axis":null},"y":{"field":"s","type":"nominal"},"text":{"field":"value","type":"nominal"}}},
  {"data":{"name":"E"},"mark":{"type":"text","align":"right"},"encoding":{"x":{"datum":8,"type":"quantitative","axis":null},"y":{"field":"s","type":"nominal"},"text":{"field":"w","type":"quantitative","format":".1%"}}},
  {"data":{"name":"Em"},"transform":[{"fold":["n1","n2","w","ci"]},{"calculate":"indexof(['m1','sd1','n1','m2','sd2','n2','w','ci'], datum.key) + 2","as":"c"}],"mark":{"type":"text","align":"right","fontWeight":"bold","fontSize":9.7},"encoding":{"x":{"field":"c","type":"quantitative","axis":null},"y":{"datum":"Total (95% CI)"},"text":{"field":"value","type":"nominal"}}},
  {"data":{"name":"H2"},"mark":{"type":"text","text":"Total (95% CI)","align":"left","fontWeight":"bold","fontSize":9.7},"encoding":{"x":{"datum":1,"type":"quantitative","axis":null},"y":{"datum":"Total (95% CI)"}}},
  {"data":{"name":"Em"},"transform":[{"fold":["_het","_test"]}],"mark":{"type":"text","align":"left"},"encoding":{"x":{"datum":1,"type":"quantitative","axis":null},"y":{"field":"key","type":"nominal"},"text":{"field":"value","type":"nominal"}}},
  {"data":{"name":"H2"},"mark":{"type":"rule","color":"#444","yOffset":4},"encoding":{"x":{"datum":0,"type":"quantitative","axis":null},"x2":{"datum":11},"y":{"datum":"Study or Subgroup"}}}
 ]},
 {"resolve": {"scale": {"size": "independent"}, "axis": {"x": "independent"}},
  "layer": [
  {"data":{"name":"E"},"mark":{"type":"rule","color":"#222"},"encoding":{"x":{"field":"lo","type":"quantitative","scale":{"domain":[-3.66,3.66],"range":[486,700],"nice":false,"zero":false},"axis":{"values":[-2,-1,0,1,2],"format":"~g","offset":-30,"title":null,"grid":false,"labelFontSize":10,"labelFont":"Liberation Sans","labelColor":"#111","domainColor":"#222","tickColor":"#222","tickSize":5,"labelPadding":1,"labelFlush":false}},"x2":{"field":"hi"},"y":{"field":"s","type":"nominal","scale":{"type":"point","padding":0,"range":[13,260],"domain":["_h1","Study or Subgroup","M. Kara","Zou Y","Hu","Fu","Zou","Xu x","Liang","Chang","Zhuang","Tang","Tang T","Xia","Xu","_gap","Total (95% CI)","_het","_test","_lab"]}}}},
  {"data":{"name":"E"},"mark":{"type":"square","filled":true,"opacity":1,"color":"#2aa52a"},"encoding":{"x":{"field":"est","type":"quantitative","axis":null},"y":{"field":"s","type":"nominal"},"size":{"field":"w","type":"quantitative","scale":{"domain":[0,0.2],"range":[0,29]},"legend":null}}},
  {"data":{"name":"Em"},"transform":[{"fold":["lo","est","hi"],"as":["k","v"]},{"calculate":"datum.k == 'est' ? 1 : 0","as":"h"}],"mark":{"type":"trail","color":"#000"},"encoding":{"x":{"field":"v","type":"quantitative","axis":null},"y":{"datum":"Total (95% CI)"},"size":{"field":"h","type":"quantitative","scale":{"domain":[0,1],"range":[0,10]},"legend":null}}},
  {"data":{"name":"H2"},"mark":{"type":"rule","color":"#222","yOffset":4,"y2Offset":-3},"encoding":{"x":{"datum":0,"type":"quantitative","axis":null},"y":{"datum":"Study or Subgroup"},"y2":{"datum":"_het"}}},
  {"data":{"name":"Em"},"mark":{"type":"text","fontWeight":"bold","fontSize":9.7,"align":"center"},"encoding":{"x":{"datum":0,"type":"quantitative","axis":null},"y":{"datum":"_h1"},"text":{"field":"m","type":"nominal"}}},
  {"data":{"name":"H2"},"mark":{"type":"text","text":"IV, Random, 95% CI","fontWeight":"bold","fontSize":9.7,"align":"center"},"encoding":{"x":{"datum":0,"type":"quantitative","axis":null},"y":{"datum":"Study or Subgroup"}}},
  {"data":{"name":"Em"},"mark":{"type":"text","align":"right","dx":-4,"dy":-6,"fontSize":10},"encoding":{"x":{"datum":0,"type":"quantitative","axis":null},"y":{"datum":"_lab"},"text":{"field":"l1","type":"nominal"}}},
  {"data":{"name":"Em"},"mark":{"type":"text","align":"left","dx":5,"dy":-6,"fontSize":10},"encoding":{"x":{"datum":0,"type":"quantitative","axis":null},"y":{"datum":"_lab"},"text":{"field":"l2","type":"nominal"}}}
 ]}
 ]}
],
"config": {
 "view": {"stroke": null},
 "text": {"font": "Liberation Sans", "fontSize": 10.3, "baseline": "middle", "color": "#1a1a1a"},
 "axisY": {"disable": true},
 "locale": {"number": {"decimal": ".", "thousands": ",", "grouping": [3], "currency": ["$", ""], "minus": "-"}}
}
}
